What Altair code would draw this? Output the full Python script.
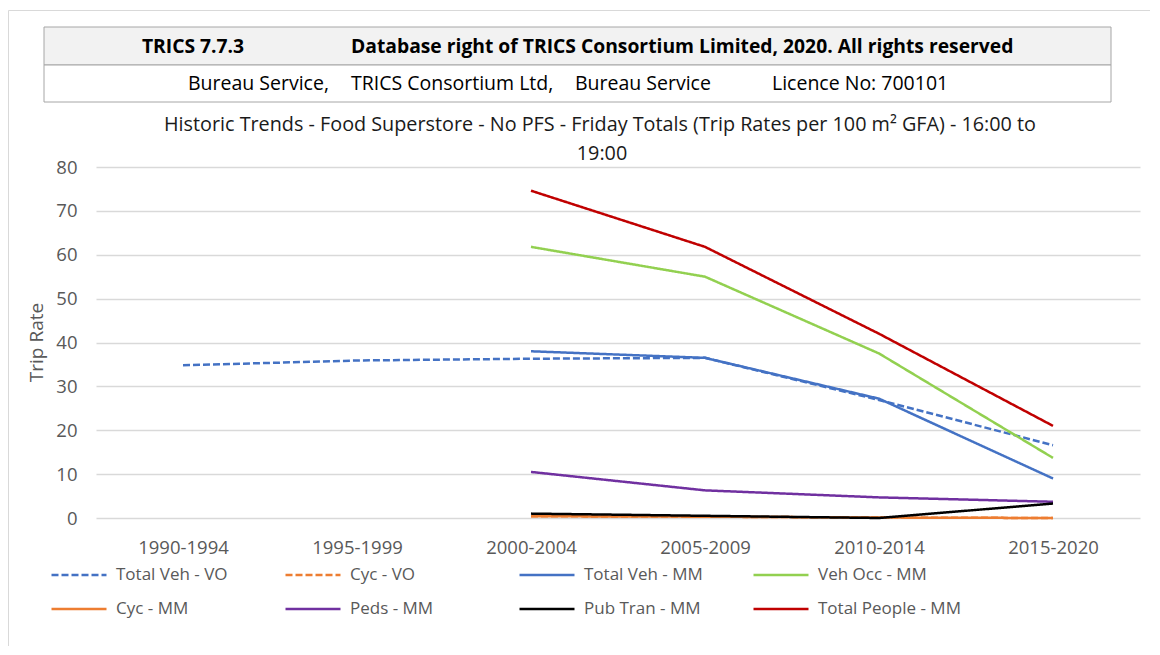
import altair as alt
import pandas as pd

# ---------------- data ----------------
categories = ["1990-1994", "1995-1999", "2000-2004", "2005-2009", "2010-2014", "2015-2020"]

series_names = ["Total Veh - VO", "Cyc - VO", "Total Veh - MM", "Veh Occ - MM",
                "Cyc - MM", "Peds - MM", "Pub Tran - MM", "Total People - MM"]
series_colors = ["#4472C4", "#ED7D31", "#4472C4", "#92D050",
                 "#ED7D31", "#7030A0", "#000000", "#C00000"]
series_dashes = [[7, 3], [7, 3], [1, 0], [1, 0], [1, 0], [1, 0], [1, 0], [1, 0]]

total_veh_vo = [34.8, 35.9, 36.3, 36.5, 26.9, 16.6]
cyc_vo = [None, None, 0.4, 0.3, 0.1, 0.0]
total_veh_mm = [None, None, 38.0, 36.5, 27.2, 9.0]
veh_occ_mm = [None, None, 61.8, 55.0, 37.5, 13.7]
cyc_mm = [None, None, 0.4, 0.3, 0.1, 0.0]
peds_mm = [None, None, 10.5, 6.3, 4.7, 3.7]
pub_tran_mm = [None, None, 1.0, 0.5, 0.0, 3.3]
total_people_mm = [None, None, 74.6, 61.8, 42.0, 21.0]

series_values = [total_veh_vo, cyc_vo, total_veh_mm, veh_occ_mm,
                 cyc_mm, peds_mm, pub_tran_mm, total_people_mm]

y_ticks = [0, 10, 20, 30, 40, 50, 60, 70, 80]

header_row1_left = "TRICS 7.7.3"
header_row1_right = "Database right of TRICS Consortium Limited, 2020. All rights reserved"
header_row2_parts = ["Bureau Service,", "TRICS Consortium Ltd,", "Bureau Service", "Licence No: 700101"]
title_line1 = "Historic Trends - Food Superstore - No PFS - Friday Totals (Trip Rates per 100 m\u00b2 GFA) - 16:00 to"
title_line2 = "19:00"
y_title = "Trip Rate"

rows = []
for order, (name, vals) in enumerate(zip(series_names, series_values)):
    for cat, v in zip(categories, vals):
        if v is not None:
            rows.append({"series": name, "period": cat, "rate": v, "order": order})
df = pd.DataFrame(rows)

FONT = "Open Sans"
GREY = "#595959"

legend_cfg = dict(title=None, orient="none", legendX=-46, legendY=398,
                  columns=4, direction="horizontal",
                  symbolType="stroke", symbolSize=3025,
                  symbolStrokeWidth=2.5, labelFont=FONT,
                  labelFontSize=17, labelColor=GREY,
                  gridAlign="all", columnPadding=25, rowPadding=14,
                  clipHeight=20, labelOffset=8, labelLimit=400,
                  padding=0, symbolOffset=0)

# ---------------- main lines ----------------
lines = alt.Chart(df).mark_line(strokeWidth=2.5).encode(
    x=alt.X("period:N", sort=categories, title=None,
            scale=alt.Scale(domain=categories),
            axis=alt.Axis(labelAngle=0, labelFont=FONT, labelFontSize=18.5,
                          labelColor=GREY, ticks=False, domain=False, grid=False,
                          labelPadding=20, labelBaseline="top")),
    y=alt.Y("rate:Q", title=y_title,
            scale=alt.Scale(domain=[0, 80], nice=False, zero=True),
            axis=alt.Axis(values=y_ticks, labelFont=FONT, labelFontSize=18.5,
                          labelColor=GREY, ticks=False, tickSize=0, domain=False,
                          grid=True, gridColor="#D9D9D9", gridWidth=1.3,
                          labelPadding=19, titleFont=FONT, titleFontSize=19,
                          titleColor=GREY, titleFontWeight="normal",
                          titleX=-60, titleY=175, titleBaseline="middle")),
    color=alt.Color("series:N", scale=alt.Scale(domain=series_names, range=series_colors),
                    legend=alt.Legend(**legend_cfg)),
    strokeDash=alt.StrokeDash("series:N", scale=alt.Scale(domain=series_names, range=series_dashes),
                              legend=alt.Legend(**legend_cfg)),
    detail="series:N",
    order="order:Q",
)

# ---------------- decorations (header box, frame, titles) ----------------
one = pd.DataFrame({"k": [0]})

frame = alt.Chart(one).mark_rect(fill=None, stroke="#D9D9D9", strokeWidth=1).encode(
    x=alt.value(-87.5), x2=alt.value(1100), y=alt.value(-156.5), y2=alt.value(600))

hdr_fill = alt.Chart(one).mark_rect(fill="#F2F2F2", stroke="#A6A6A6", strokeWidth=1).encode(
    x=alt.value(-52), x2=alt.value(1015), y=alt.value(-140), y2=alt.value(-102))
hdr_row2 = alt.Chart(one).mark_rect(fill="#FFFFFF", stroke="#A6A6A6", strokeWidth=1).encode(
    x=alt.value(-52), x2=alt.value(1015), y=alt.value(-102), y2=alt.value(-65))


def txt(s, x, y, align="left", bold=False, size=18, color="#000000"):
    return alt.Chart(pd.DataFrame({"t": [s]})).mark_text(
        font=FONT, fontSize=size, fontWeight="bold" if bold else "normal",
        align=align, baseline="middle", color=color).encode(
        text="t:N", x=alt.value(x), y=alt.value(y))


texts = [
    txt(header_row1_left, 97, -120, align="center", bold=True, size=19.3),
    txt(header_row1_right, 255, -120, bold=True, size=19.3),
    txt(header_row2_parts[0], 92, -83, size=19.5),
    txt(header_row2_parts[1], 255, -83, size=19.5),
    txt(header_row2_parts[2], 479, -83, size=19.5),
    txt(header_row2_parts[3], 676, -83, size=19.5),
    txt(title_line1, 504, -42, align="center", size=19.8, color="#1A1A1A"),
    txt(title_line2, 506, -13, align="center", size=19.8, color="#1A1A1A"),
]

chart = alt.layer(frame, hdr_fill, hdr_row2, *texts, lines).properties(
    width=1044, height=351,
    autosize=alt.AutoSizeParams(type="none"),
    padding={"left": 88, "top": 159, "right": 10, "bottom": 128},
).configure_view(stroke=None).resolve_scale(color="shared")

chart.save("out.html", embed_options={"renderer": "svg", "actions": False})
